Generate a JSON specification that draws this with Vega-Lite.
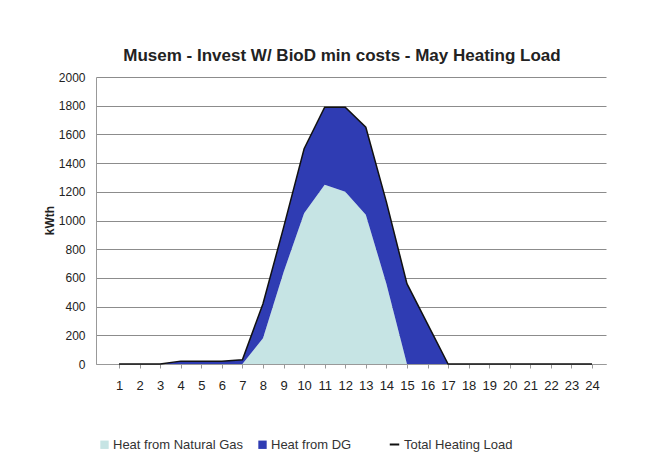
{
  "$schema": "https://vega.github.io/schema/vega-lite/v6.json",
  "width": 510,
  "height": 287,
  "autosize": {"type": "none"},
  "padding": {"left": 96, "top": 77, "right": 58, "bottom": 111},
  "background": "white",
  "config": {
    "font": "Liberation Sans",
    "view": {"stroke": null},
    "axis": {"labelFont": "Liberation Sans", "labelColor": "#222", "labelFontSize": 12, "titleFont": "Liberation Sans"},
    "axisY": {
      "values": [0,200,400,600,800,1000,1200,1400,1600,1800,2000],
      "format": "d",
      "labelOverlap": false,
      "grid": true,
      "gridColor": "#8c8c8c",
      "gridWidth": 1,
      "domainColor": "#999",
      "ticks": false,
      "labelPadding": 11,
      "labelFontSize": 12,
      "titleFontSize": 12,
      "titleFontWeight": "bold",
      "titleColor": "#222",
      "titleX": -47,
      "titleY": 143,
      "titleAlign": "center",
      "titleBaseline": "middle"
    }
  },
  "title": {
    "text": "Musem - Invest W/ BioD min costs - May Heating Load",
    "fontSize": 17,
    "fontWeight": "bold",
    "color": "#222",
    "offset": 6,
    "dx": -9
  },
  "data": {
    "values": [
      {"hour": 1, "gas": 0, "total": 0},
      {"hour": 2, "gas": 0, "total": 0},
      {"hour": 3, "gas": 0, "total": 0},
      {"hour": 4, "gas": 0, "total": 20},
      {"hour": 5, "gas": 0, "total": 20},
      {"hour": 6, "gas": 0, "total": 20},
      {"hour": 7, "gas": 0, "total": 30},
      {"hour": 8, "gas": 180, "total": 420},
      {"hour": 9, "gas": 640, "total": 950},
      {"hour": 10, "gas": 1050, "total": 1500},
      {"hour": 11, "gas": 1250, "total": 1790},
      {"hour": 12, "gas": 1200, "total": 1790},
      {"hour": 13, "gas": 1040, "total": 1650},
      {"hour": 14, "gas": 560, "total": 1130},
      {"hour": 15, "gas": 0, "total": 560},
      {"hour": 16, "gas": 0, "total": 280},
      {"hour": 17, "gas": 0, "total": 0},
      {"hour": 18, "gas": 0, "total": 0},
      {"hour": 19, "gas": 0, "total": 0},
      {"hour": 20, "gas": 0, "total": 0},
      {"hour": 21, "gas": 0, "total": 0},
      {"hour": 22, "gas": 0, "total": 0},
      {"hour": 23, "gas": 0, "total": 0},
      {"hour": 24, "gas": 0, "total": 0}
    ]
  },
  "encoding": {
    "x": {
      "field": "hour",
      "type": "quantitative",
      "title": null,
      "scale": {"domain": [-0.12, 24.68], "nice": false, "zero": false},
      "axis": {
        "values": [1,2,3,4,5,6,7,8,9,10,11,12,13,14,15,16,17,18,19,20,21,22,23,24],
        "labelOverlap": false,
        "grid": false,
        "domainColor": "#999",
        "tickColor": "#999",
        "tickSize": 4,
        "labelPadding": 11,
        "labelFontSize": 13,
        "labelFont": "Liberation Sans Narrow, Liberation Sans"
      }
    }
  },
  "layer": [
    {
      "mark": {"type": "area", "opacity": 1},
      "encoding": {
        "y": {
          "field": "gas",
          "type": "quantitative",
          "title": "kWth",
          "scale": {"domain": [0, 2000], "nice": false}
        },
        "fill": {
          "datum": "Heat from Natural Gas",
          "scale": {
            "domain": ["Heat from Natural Gas", "Heat from DG"],
            "range": ["#c6e4e4", "#2f3cb3"]
          },
          "legend": {
            "title": null,
            "orient": "none",
            "legendX": 2,
            "legendY": 361,
            "direction": "horizontal",
            "symbolType": "square",
            "symbolSize": 70,
            "symbolStrokeWidth": 0,
            "labelFontSize": 13,
            "labelColor": "#333",
            "labelFont": "Liberation Sans",
            "columnPadding": 12,
            "labelOffset": 2
          }
        }
      }
    },
    {
      "mark": {"type": "area", "opacity": 1},
      "encoding": {
        "y": {"field": "total", "type": "quantitative", "title": "kWth"},
        "y2": {"field": "gas"},
        "fill": {"datum": "Heat from DG"}
      }
    },
    {
      "mark": {"type": "line", "strokeWidth": 1.5},
      "encoding": {
        "y": {"field": "total", "type": "quantitative", "title": "kWth"},
        "stroke": {
          "datum": "Total Heating Load",
          "scale": {"domain": ["Total Heating Load"], "range": ["#111111"]},
          "legend": {
            "title": null,
            "orient": "none",
            "legendX": 292,
            "legendY": 361,
            "symbolType": "stroke",
            "symbolSize": 90,
            "symbolStrokeWidth": 2,
            "labelFontSize": 13,
            "labelColor": "#333",
            "labelFont": "Liberation Sans",
            "labelOffset": 3
          }
        }
      }
    }
  ]
}
